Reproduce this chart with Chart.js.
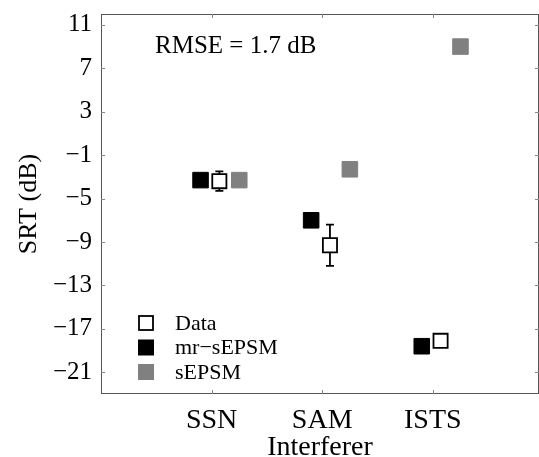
<!DOCTYPE html>
<html>
<head>
<meta charset="utf-8">
<script src="https://cdn.jsdelivr.net/npm/chart.js@4.4.1/dist/chart.umd.min.js"></script>
<style>
  html, body { margin: 0; padding: 0; background: #fff; overflow: hidden; }
  #wrap { width: 539px; height: 457px; position: relative; }
  canvas { display: block; }
</style>
</head>
<body>
<div id="wrap"><canvas id="srt_chart"></canvas></div>
<script>
/* values */
var categories = ["SSN", "SAM", "ISTS"];
var dataSrt = [-3.4, -9.3, -18.1];
var dataErr = [0.9, 1.9, 0.4];
var mrSepsmSrt = [-3.3, -7.0, -18.6];
var sepsmSrt = [-3.3, -2.3, 9.0];
var yTicks = [11, 7, 3, -1, -5, -9, -13, -17, -21];
var rmseText = "RMSE = 1.7 dB";

var serif = "'Liberation Serif', 'Times New Roman', serif";
Chart.defaults.font.family = serif;
Chart.defaults.color = "#000";

function toPoints(values, shift) {
    return values.map(function (v, i) { return { x: i + 1 + shift, y: v }; });
}

// error bars under the Data boxes
var errorBars = {
    id: "errorBars",
    beforeDatasetsDraw: function (chart) {
        var ctx = chart.ctx, xs = chart.scales.x, ys = chart.scales.y;
        ctx.save();
        ctx.strokeStyle = "#000";
        ctx.lineWidth = 1.8;
        dataSrt.forEach(function (v, i) {
            var px = xs.getPixelForValue(i + 1 + 0.07);
            var top = ys.getPixelForValue(v + dataErr[i]);
            var bot = ys.getPixelForValue(v - dataErr[i]);
            ctx.beginPath();
            ctx.moveTo(px, top); ctx.lineTo(px, bot);
            ctx.moveTo(px - 4, top); ctx.lineTo(px + 4, top);
            ctx.moveTo(px - 4, bot); ctx.lineTo(px + 4, bot);
            ctx.stroke();
        });
        ctx.restore();
    }
};

// box, inward ticks, RMSE note and legend
var frame = {
    id: "frame",
    afterDraw: function (chart) {
        var ctx = chart.ctx, a = chart.chartArea, xs = chart.scales.x, ys = chart.scales.y;
        ctx.save();
        ctx.strokeStyle = "#555";
        ctx.lineWidth = 1;
        ctx.strokeRect(a.left + 0.5, a.top + 0.5, a.right - a.left - 1, a.bottom - a.top - 1);
        ctx.strokeStyle = "#888";
        ctx.beginPath();
        yTicks.forEach(function (v) {
            var py = Math.round(ys.getPixelForValue(v)) + 0.5;
            ctx.moveTo(a.left, py); ctx.lineTo(a.left + 4, py);
            ctx.moveTo(a.right, py); ctx.lineTo(a.right - 4, py);
        });
        categories.forEach(function (c, i) {
            var px = Math.round(xs.getPixelForValue(i + 1)) + 0.5;
            ctx.moveTo(px, a.bottom); ctx.lineTo(px, a.bottom - 4);
            ctx.moveTo(px, a.top); ctx.lineTo(px, a.top + 4);
        });
        ctx.stroke();

        ctx.fillStyle = "#000";
        ctx.font = "25px " + serif;
        ctx.textBaseline = "middle";
        ctx.fillText(rmseText, a.left + 54, a.top + 32);

        // legend
        var rows = chart.data.datasets;
        ctx.font = "22px " + serif;
        rows.forEach(function (ds, i) {
            var cy = 323 + i * 24.5, cx = 146;
            if (ds.backgroundColor === "#fff") {
                ctx.fillStyle = "#fff";
                ctx.fillRect(cx - 7, cy - 7, 14, 14);
                ctx.strokeStyle = "#000";
                ctx.lineWidth = 1.8;
                ctx.strokeRect(cx - 7, cy - 7, 14, 14);
            } else {
                ctx.fillStyle = ds.backgroundColor;
                ctx.fillRect(cx - 8, cy - 8, 16, 16);
            }
            ctx.fillStyle = "#000";
            ctx.fillText(ds.label, 175, cy + 1);
        });
        ctx.restore();
    }
};

var ctx = document.getElementById("srt_chart");
var srtChart = new Chart(ctx, {
    type: "scatter",
    data: {
        datasets: [{
            label: "Data",
            data: toPoints(dataSrt, 0.07),
            pointStyle: "rect",
            pointRadius: 10,
            backgroundColor: "#fff",
            borderColor: "#000",
            borderWidth: 1.8
        }, {
            label: "mr\u2212sEPSM",
            data: toPoints(mrSepsmSrt, -0.1),
            pointStyle: "rect",
            pointRadius: 11,
            backgroundColor: "#000",
            borderColor: "#000",
            borderWidth: 1
        }, {
            label: "sEPSM",
            data: toPoints(sepsmSrt, 0.25),
            pointStyle: "rect",
            pointRadius: 11,
            backgroundColor: "#808080",
            borderColor: "#808080",
            borderWidth: 1
        }]
    },
    options: {
        responsive: true,
        maintainAspectRatio: false,
        animation: false,
        events: [],
        layout: { autoPadding: false, padding: { top: 14, right: 0, left: 0, bottom: 0 } },
        plugins: {
            legend: { display: false },
            tooltip: { enabled: false }
        },
        scales: {
            x: {
                type: "linear",
                min: 0,
                max: 3.96,
                afterBuildTicks: function (scale) {
                    scale.ticks = categories.map(function (c, i) { return { value: i + 1 }; });
                },
                ticks: {
                    callback: function (v) { return categories[v - 1]; },
                    font: { size: 28 },
                    padding: 10,
                    maxRotation: 0
                },
                grid: { drawOnChartArea: false, drawTicks: false },
                border: { display: false },
                title: {
                    display: true,
                    text: "Interferer",
                    font: { size: 28, lineHeight: 0.7 },
                    padding: 0
                },
                afterFit: function (scale) {
                    scale.height = 63;
                    scale.paddingLeft = 0;
                    scale.paddingRight = 0;
                }
            },
            y: {
                min: -23,
                max: 12,
                afterBuildTicks: function (scale) {
                    scale.ticks = yTicks.map(function (v) { return { value: v }; });
                },
                ticks: {
                    callback: function (v) { return String(v).replace("-", "\u2212"); },
                    font: { size: 25 },
                    padding: 9
                },
                grid: { drawOnChartArea: false, drawTicks: false },
                border: { display: false },
                title: {
                    display: true,
                    text: "SRT (dB)",
                    font: { size: 26 },
                    padding: { top: 14, bottom: 0 }
                },
                afterFit: function (scale) {
                    scale.width = 101;
                    scale.paddingTop = 0;
                    scale.paddingBottom = 0;
                }
            }
        }
    },
    plugins: [errorBars, frame]
});
</script>
</body>
</html>
